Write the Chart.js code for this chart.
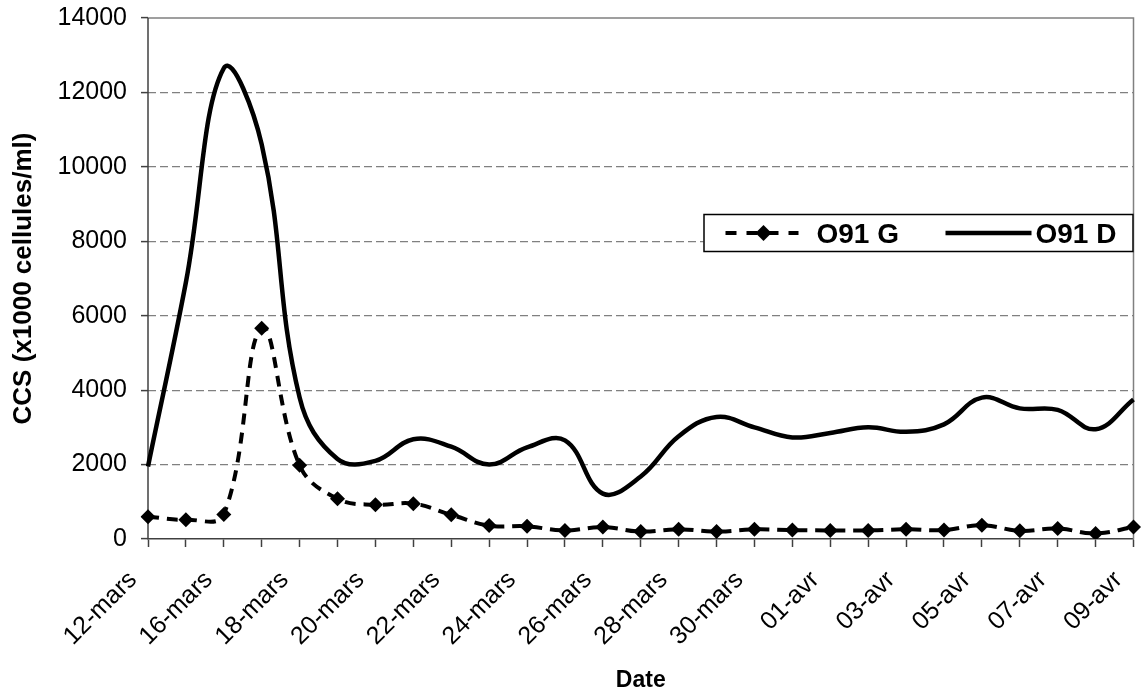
<!DOCTYPE html>
<html>
<head>
<meta charset="utf-8">
<script src="https://cdn.jsdelivr.net/npm/chart.js@4.4.0/dist/chart.umd.min.js"></script>
<style>
    html, body { margin: 0; padding: 0; background: #fff; }
</style>
</head>
<body>
<canvas id="ccsChart" width="1141" height="695"></canvas>
<script>
// Dates (axe des catégories) - une étiquette sur deux est affichée
const dates = ['12-mars', '14-mars', '16-mars', '17-mars', '18-mars', '19-mars', '20-mars', '21-mars',
    '22-mars', '23-mars', '24-mars', '25-mars', '26-mars', '27-mars', '28-mars', '29-mars', '30-mars',
    '31-mars', '01-avr', '02-avr', '03-avr', '04-avr', '05-avr', '06-avr', '07-avr', '08-avr', '09-avr'];

// CCS (x1000 cellules/ml)
const o91G = [600, 520, 660, 5660, 1980, 1080, 920, 950, 650, 360, 340, 230, 320, 200, 260, 200,
    260, 240, 230, 230, 260, 240, 370, 220, 280, 150, 320];
const o91D = [1950, 6900, 12650, 10600, 3800, 2150, 2100, 2680, 2480, 2000, 2460, 2650, 1220, 1680,
    2760, 3280, 3000, 2730, 2850, 3000, 2880, 3080, 3800, 3510, 3470, 2950, 3750];

const yMin = 0;
const yMax = 14000;
const yStep = 2000;

const FONT = '"Liberation Sans", Arial, sans-serif';

// Cadre de la zone de tracé : axe gauche foncé, haut et droite gris
const plotFrame = {
    id: 'plotFrame',
    beforeDatasetsDraw(chart) {
        const { ctx, chartArea: a } = chart;
        ctx.save();
        ctx.strokeStyle = '#808080';
        ctx.lineWidth = 1.5;
        ctx.beginPath();
        ctx.moveTo(a.left, a.top);
        ctx.lineTo(a.right, a.top);
        ctx.lineTo(a.right, a.bottom);
        ctx.stroke();
        ctx.strokeStyle = '#404040';
        ctx.beginPath();
        ctx.moveTo(a.left, a.top);
        ctx.lineTo(a.left, a.bottom);
        ctx.stroke();
        ctx.restore();
    }
};

// Étiquettes de dates inclinées à 45°
const dateLabels = {
    id: 'dateLabels',
    afterDraw(chart) {
        const { ctx } = chart;
        const xScale = chart.scales.x;
        ctx.save();
        ctx.font = '25px ' + FONT;
        ctx.fillStyle = '#000';
        ctx.textAlign = 'right';
        ctx.textBaseline = 'middle';
        dates.forEach((d, i) => {
            if (i % 2) return;
            const px = xScale.getPixelForTick(i);
            ctx.save();
            ctx.translate(px - 15, xScale.top + 37);
            ctx.rotate(-Math.PI / 4);
            ctx.fillText(d, 0, 0);
            ctx.restore();
        });
        ctx.restore();
    }
};

// Légende encadrée
const boxLegend = {
    id: 'boxLegend',
    afterDraw(chart) {
        const { ctx, chartArea: a } = chart;
        const right = a.right;
        const left = right - 430;
        const top = 214, h = 38, cy = top + h / 2;
        ctx.save();
        ctx.fillStyle = '#fff';
        ctx.fillRect(left, top, right - left, h);
        ctx.strokeStyle = '#000';
        ctx.lineWidth = 1.5;
        ctx.strokeRect(left + 0.5, top + 0.5, right - left - 1, h - 1);

        // O91 G
        ctx.lineWidth = 4;
        ctx.setLineDash([11, 10]);
        ctx.beginPath();
        ctx.moveTo(left + 22, cy);
        ctx.lineTo(left + 95, cy);
        ctx.stroke();
        ctx.setLineDash([]);
        const mx = left + 60, r = 8;
        ctx.fillStyle = '#000';
        ctx.beginPath();
        ctx.moveTo(mx, cy - r);
        ctx.lineTo(mx + r, cy);
        ctx.lineTo(mx, cy + r);
        ctx.lineTo(mx - r, cy);
        ctx.closePath();
        ctx.fill();

        ctx.font = 'bold 28px ' + FONT;
        ctx.textAlign = 'left';
        ctx.textBaseline = 'middle';
        ctx.fillText('O91 G', left + 113, cy + 2);

        // O91 D
        ctx.lineWidth = 4.5;
        ctx.beginPath();
        ctx.moveTo(left + 242, cy);
        ctx.lineTo(left + 328, cy);
        ctx.stroke();
        ctx.fillText('O91 D', left + 332, cy + 2);
        ctx.restore();
    }
};

new Chart(document.getElementById('ccsChart'), {
    type: 'line',
    data: {
        labels: dates,
        datasets: [{
            label: 'O91 G',
            data: o91G,
            borderColor: '#000',
            backgroundColor: '#000',
            borderWidth: 4,
            borderDash: [11, 8],
            tension: 0.4,
            pointStyle: 'rectRot',
            pointRadius: 7.5,
            pointBorderWidth: 0,
            pointBackgroundColor: '#000',
            fill: false
        }, {
            label: 'O91 D',
            data: o91D,
            borderColor: '#000',
            borderWidth: 4.5,
            tension: 0.4,
            pointRadius: 0,
            fill: false
        }]
    },
    options: {
        responsive: false,
        animation: false,
        devicePixelRatio: 1,
        layout: { padding: { top: 18, right: 2, left: 0, bottom: 0 } },
        plugins: {
            legend: { display: false },
            tooltip: { enabled: false }
        },
        scales: {
            x: {
                type: 'category',
                offset: false,
                grid: {
                    drawOnChartArea: false,
                    drawTicks: true,
                    tickLength: 8,
                    tickColor: '#404040',
                    tickWidth: 1.5
                },
                border: { display: true, color: '#404040', width: 1.5 },
                ticks: { autoSkip: false, maxRotation: 0, callback: () => '' },
                title: {
                    display: true,
                    text: 'Date',
                    color: '#000',
                    font: { family: FONT, size: 23, weight: 'bold' },
                    padding: { top: 0, bottom: 1 }
                },
                afterFit(scale) {
                    scale.height = 156;
                    scale.paddingLeft = 0;
                    scale.paddingRight = 0;
                }
            },
            y: {
                min: yMin,
                max: yMax,
                grid: {
                    color: c => (c.tick && (c.tick.value === yMin || c.tick.value === yMax)) ? 'rgba(0,0,0,0)' : '#808080',
                    lineWidth: 1.2,
                    drawTicks: true,
                    tickLength: 7,
                    tickColor: '#404040',
                    tickWidth: 1.5,
                    tickBorderDash: []
                },
                border: { display: false, dash: [8, 4] },
                ticks: {
                    stepSize: yStep,
                    color: '#000',
                    padding: 14,
                    font: { family: FONT, size: 25 },
                    callback: v => String(v)
                },
                title: {
                    display: true,
                    text: 'CCS (x1000 cellules/ml)',
                    color: '#000',
                    font: { family: FONT, size: 26, weight: 'bold' },
                    padding: { top: 8, bottom: 0 }
                },
                afterFit(scale) {
                    scale.width = 148;
                    scale.paddingTop = 0;
                    scale.paddingBottom = 0;
                }
            }
        }
    },
    plugins: [plotFrame, dateLabels, boxLegend]
});
</script>
</body>
</html>
